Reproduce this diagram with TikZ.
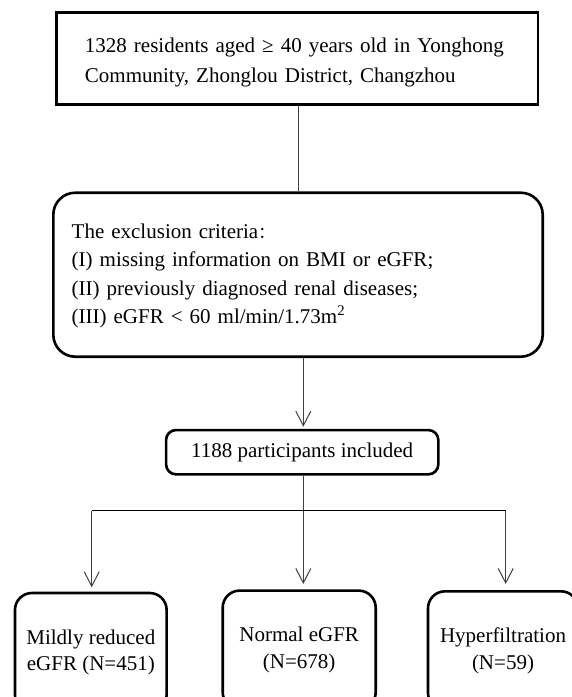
\documentclass[tikz,border=0pt]{standalone}
\usepackage{fontspec}
\setmainfont{Liberation Serif}
\newfontfamily\cjkfont{Noto Sans CJK SC}
\usetikzlibrary{arrows.meta}
\begin{document}
\begin{tikzpicture}[x=1pt,y=-1pt,
  box/.style={draw=black,line width=2.6pt,inner sep=0pt},
  conn/.style={draw=black!75,line width=1pt},
  arr/.style={conn,-{Straight Barb[length=14.5pt,width=15pt,line width=1pt]}},
  topfont/.style={font={\fontsize{21}{30.5}\selectfont}},
  exfont/.style={font={\fontsize{21}{28.2}\selectfont}},
  botfont/.style={font={\fontsize{21}{26.7}\selectfont}}]
\useasboundingbox (0,0) rectangle (572,697);
\clip (0,0) rectangle (572,697);

\node[box,minimum width=481.3pt,minimum height=91.6pt] (src) at (297.3,58.5) {};
\node[topfont,inner sep=0pt,text width=426.7pt,align=left] (srctext) at (298.3,62.5)
  {\makebox[426.7pt][s]{1328 residents aged ≥ 40 years old in Yonghong}\\Community, Zhonglou District, Changzhou};

\node[box,minimum width=489.4pt,minimum height=164pt,rounded corners=22pt] (exc) at (298,274.7) {};
\node[exfont,inner sep=0pt,text width=452.6pt,align=left] (exctext) at (298,276)
  {The exclusion criteria{\cjkfont\fontsize{16}{16}\selectfont ：}\\(I) missing information on BMI or eGFR;\\(II) previously diagnosed renal diseases;\\(III) eGFR < 60 ml/min/1.73m\textsuperscript{2}};

\node[box,topfont,rounded corners=10pt,minimum width=272.3pt,minimum height=44.3pt] (inc) at (302.2,452.2)
  {1188 participants included};

\node[box,botfont,rounded corners=17pt,minimum width=151.7pt,minimum height=118.6pt,align=center,anchor=north] (mild) at (90.8,591.7)
  {Mildly reduced\\eGFR (N=451)};
\node[box,botfont,rounded corners=17pt,minimum width=153pt,minimum height=118.6pt,align=center,anchor=north] (norm) at (299.2,589.3)
  {Normal eGFR\\(N=678)};
\node[box,botfont,rounded corners=17pt,minimum width=150pt,minimum height=118.6pt,align=center,anchor=north] (hyp) at (503,590)
  {Hyperfiltration\\(N=59)};

\coordinate (hub) at (303.3,510.5);
\coordinate (hl) at (91.7,510.5);
\coordinate (hr) at (505.7,510.5);

\draw[conn] (src.south -| 298,0) -- (exc.north -| 298,0);
\draw[arr,shorten >=2pt] (exc.south -| hub) -- (inc.north -| hub);
\draw[conn] (inc.south -| hub) -- (hub);
\draw[conn,draw=black] (hl) -- (hr);
\draw[arr,shorten >=4.4pt] (hl) -- (hl |- mild.north);
\draw[arr,shorten >=5.3pt] (hub) -- (hub |- norm.north);
\draw[arr,shorten >=6pt] (hr) -- (hr |- hyp.north);
\end{tikzpicture}
\end{document}
